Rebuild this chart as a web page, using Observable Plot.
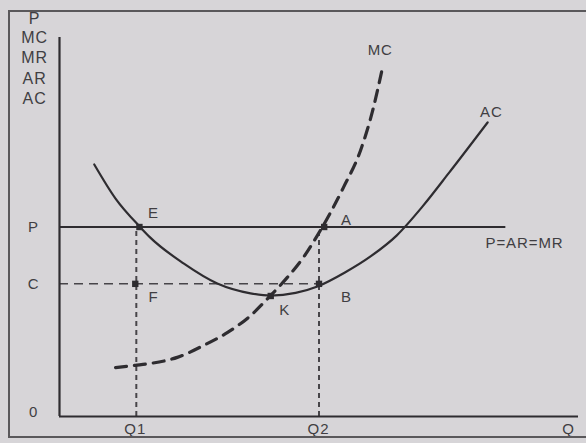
<!DOCTYPE html>
<html>
<head>
<meta charset="utf-8">
<script src="https://cdn.jsdelivr.net/npm/d3@7"></script>
<script src="https://cdn.jsdelivr.net/npm/@observablehq/plot@0.6"></script>
<style>
  html, body { margin: 0; padding: 0; background: #d7d5d8; }
  #wrap { position: relative; width: 586px; height: 443px; overflow: hidden; }
  #frame { position: absolute; left: 8px; top: 10px; width: 620px; height: 424px; border: 2px solid #5a585b; pointer-events: none; }
  #chart { position: absolute; left: 0; top: 0; }
  #chart svg text { letter-spacing: 0.9px; }
</style>
</head>
<body>
<div id="wrap"><div id="chart"></div><div id="frame"></div></div>
<script>
// Average cost curve (U-shaped)
const acX = [6.7, 10.8, 15.6, 17.5, 23.9, 30.4, 36.8, 40.7, 45.5, 49.7, 55.0, 60.0, 65.0, 70.0, 75.0, 82.5];
const acY = [66.5, 57.5, 49.9, 47.2, 40.4, 35.1, 32.5, 31.9, 32.6, 34.3, 38.0, 42.3, 47.8, 55.5, 64.2, 77.6];
// Marginal cost curve (dashed)
const mcX = [10.8, 14.6, 17.5, 22.7, 27.7, 32.4, 36.8, 40.1, 43.9, 47.0, 49.7, 54.7, 58.0, 60.3, 62.2];
const mcY = [12.9, 13.5, 14.0, 15.6, 18.7, 22.2, 26.6, 31.1, 36.7, 42.0, 47.8, 60.4, 70.2, 80.5, 91.8];
// Key levels
const priceP = 50;
const costC = 35;
const q1 = 14.8;
const q2 = 50;
const priceLineEnd = 86;
// Points
const ptNames = ["E", "F", "K", "A", "B"];
const ptX = [15.4, 14.6, 40.7, 51.0, 50.0];
const ptY = [50, 35, 31.8, 50, 35];
const ptLabelX = [18.1, 18.1, 43.4, 55.3, 55.3];
const ptLabelY = [53.6, 31.4, 28.0, 51.7, 31.4];
// Axis-side labels
const yTitle = ["P", "MC", "MR", "AR", "AC"];
const yTitleY = [104.8, 100, 94.7, 89.2, 83.9];
const yTickLabels = ["P", "C", "0"];
const yTickY = [50, 35, 1.2];
const xTickLabels = ["Q1", "Q2", "Q"];
const xTickX = [14.6, 49.9, 98.1];
const curveLabels = ["MC", "AC", "P=AR=MR"];
const curveLabelX = [61.8, 83.2, 89.6];
const curveLabelY = [96.6, 80.2, 45.6];

const ac = acX.map((x, i) => ({x, y: acY[i]}));
const mc = mcX.map((x, i) => ({x, y: mcY[i]}));
const pts = ptNames.map((n, i) => ({n, x: ptX[i], y: ptY[i], lx: ptLabelX[i], ly: ptLabelY[i]}));
const yT = yTitle.map((t, i) => ({t, y: yTitleY[i]}));
const yK = yTickLabels.map((t, i) => ({t, y: yTickY[i]}));
const xK = xTickLabels.map((t, i) => ({t, x: xTickX[i]}));
const cL = curveLabels.map((t, i) => ({t, x: curveLabelX[i], y: curveLabelY[i]}));

const ink = "#2e2c30";
const txt = "#403e42";
const font = "Liberation Sans, Arial, sans-serif";

const chart = Plot.plot({
  width: 586,
  height: 443,
  marginLeft: 59,
  marginRight: 8,
  marginTop: 37,
  marginBottom: 27,
  style: {background: "transparent", fontFamily: font, overflow: "visible"},
  x: {domain: [0, 100], axis: null},
  y: {domain: [0, 100], axis: null},
  marks: [
    // dashed guide lines
    Plot.ruleY([costC], {x1: 0, x2: q2, stroke: ink, strokeWidth: 1.5, strokeDasharray: "9,6", strokeOpacity: 0.85}),
    Plot.ruleX([q1], {y1: 0, y2: priceP, stroke: ink, strokeWidth: 2, strokeDasharray: "5,4", strokeOpacity: 0.85}),
    Plot.ruleX([q2], {y1: 0, y2: priceP, stroke: ink, strokeWidth: 2, strokeDasharray: "5,4", strokeOpacity: 0.85}),
    // price line
    Plot.ruleY([priceP], {x1: 0, x2: priceLineEnd, stroke: ink, strokeWidth: 2}),
    // curves
    Plot.line(ac, {x: "x", y: "y", curve: "monotone-x", stroke: ink, strokeWidth: 2.2}),
    Plot.line(mc, {x: "x", y: "y", curve: "monotone-x", stroke: ink, strokeWidth: 3.2, strokeDasharray: "11,8"}),
    // axes
    Plot.ruleX([0], {y1: 0, y2: 100, stroke: ink, strokeWidth: 2.2}),
    Plot.ruleY([0], {x1: 0, x2: 100, stroke: ink, strokeWidth: 2.2}),
    // points
    Plot.dot(pts, {x: "x", y: "y", symbol: "square", r: 3.6, fill: ink, stroke: "none"}),
    Plot.text(pts, {x: "lx", y: "ly", text: "n", fontSize: 15, fill: txt}),
    // labels
    Plot.text(yT, {x: -4.8, y: "y", text: "t", fontSize: 16, fill: txt}),
    Plot.text(yK, {x: -5.0, y: "y", text: "t", fontSize: 15, fill: txt}),
    Plot.text(xK, {x: "x", y: -3.3, text: "t", fontSize: 15, fill: txt}),
    Plot.text(cL, {x: "x", y: "y", text: "t", fontSize: 15, fill: txt})
  ]
});
document.getElementById("chart").appendChild(chart);
</script>
</body>
</html>
